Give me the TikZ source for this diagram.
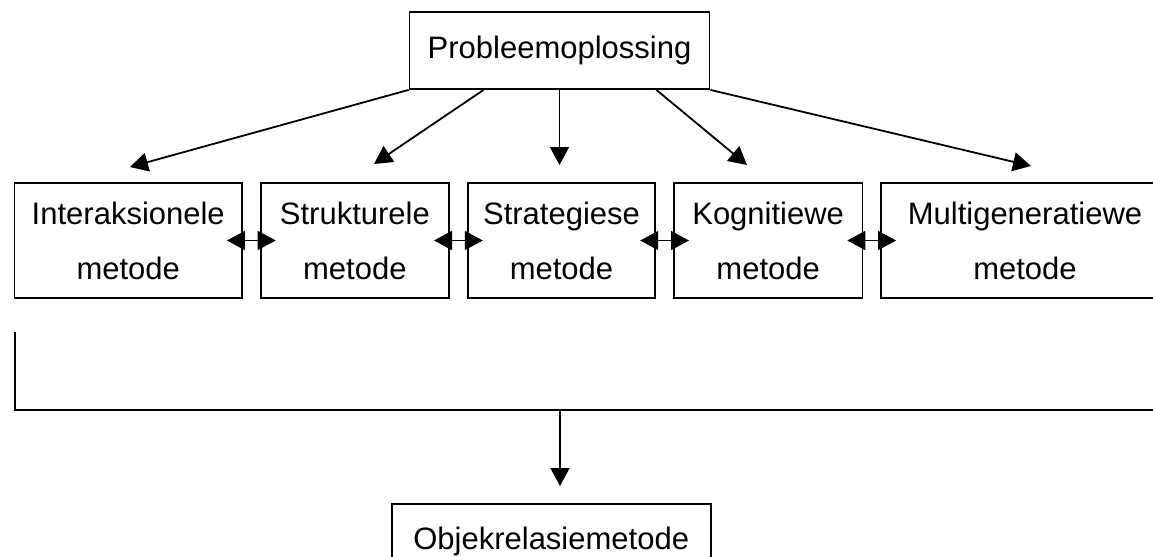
\documentclass[tikz,border=0pt]{standalone}
\usepackage{fontspec}
\setmainfont{Liberation Sans}
\usetikzlibrary{positioning,arrows.meta}

\begin{document}
\begin{tikzpicture}[
  x=0.5pt, y=-0.5pt,
  node distance=0.1cm and 8.4pt,
  box/.style={draw, line width=0.9pt, align=center, inner sep=0pt,
    font=\fontsize{15.5}{27.5}\selectfont},
  mbox/.style={box, minimum height=57.5pt},
  arr/.style={line width=0.9pt, -{Triangle[length=9pt,width=9.5pt]}},
  dbl/.style={line width=0.9pt, {Triangle[length=9pt,width=9.5pt]}-{Triangle[length=9pt,width=9.5pt]}}
]
\clip (0,0) rectangle (1153,557);

\node[box, minimum width=150pt, minimum height=38.5pt] (prob) at (559.5,50.5) {Probleemoplossing};

\node[mbox, minimum width=113.75pt] (inter) at (128.25,240.5) {Interaksionele\\metode};
\node[mbox, minimum width=94.25pt, right=of inter] (struk) {Strukturele\\metode};
\node[mbox, minimum width=93.8pt, right=of struk] (strat) {Strategiese\\metode};
\node[mbox, minimum width=94.25pt, right=of strat] (kogn) {Kognitiewe\\metode};
\node[mbox, minimum width=144pt, right=of kogn] (multi) {Multigeneratiewe\\metode};

\node[box, minimum width=159.5pt, minimum height=37.5pt] (objek) at (551.2,541.5) {Objekrelasiemetode};

% free arrow ends
\coordinate (t1) at (130,167);
\coordinate (t2) at (374,164);
\coordinate (t3) at (559.5,165);
\coordinate (t4) at (747,165);
\coordinate (t5) at (1031,166);
\coordinate (bl) at (14.7,332);
\coordinate (br) at (1160,410);
\coordinate (bm) at (560,410);
\coordinate (bt) at (560,486);

% top fan
\draw[arr] (prob.south west) -- (t1);
\draw[arr] ([xshift=37.5pt]prob.south west) -- (t2);
\draw[arr] (prob.south) -- (t3);
\draw[arr] ([xshift=-27pt]prob.south east) -- (t4);
\draw[arr] (prob.south east) -- (t5);

% between the methods
\draw[dbl] ([xshift=-8pt]inter.east) -- ([xshift=8pt]struk.west);
\draw[dbl] ([xshift=-8pt]struk.east) -- ([xshift=8pt]strat.west);
\draw[dbl] ([xshift=-8pt]strat.east) -- ([xshift=8pt]kogn.west);
\draw[dbl] ([xshift=-8pt]kogn.east) -- ([xshift=8pt]multi.west);

% bracket
\draw[line width=0.9pt] (bl) |- (br);
\draw[arr] (bm) -- (bt);

\end{tikzpicture}
\end{document}
